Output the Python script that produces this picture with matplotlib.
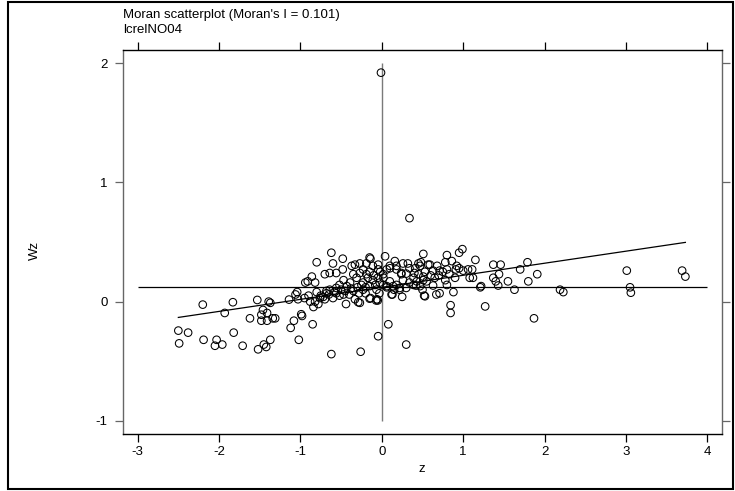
import matplotlib
matplotlib.use('Agg')
import matplotlib.pyplot as plt
from matplotlib.patches import Rectangle

plt.rcParams['font.family'] = ['Liberation Sans', 'DejaVu Sans']

title_line1 = "Moran scatterplot (Moran's I = 0.101)"
title_line2 = "lcrelNO04"
x_label = "z"
y_label = "Wz"
moran_i = 0.101
mean_wz = 0.12
x_ticks = [-3, -2, -1, 0, 1, 2, 3, 4]
y_ticks = [-1, 0, 1, 2]

# left group (z < -1)
z_left = [-2.50, -2.38, -2.49, -2.20, -2.19, -2.03, -2.05, -1.96, -1.93, -1.83,
          -1.82, -1.71, -1.62, -1.53, -1.52, -1.46, -1.48, -1.41, -1.48, -1.41,
          -1.34, -1.31, -1.45, -1.42, -1.37, -1.39, -1.37, -1.14, -1.12, -1.08,
          -1.06, -1.04, -1.02, -1.03]
wz_left = [-0.243, -0.26, -0.35, -0.025, -0.32, -0.32, -0.37, -0.36, -0.095, -0.005,
           -0.26, -0.37, -0.14, 0.014, -0.40, -0.07, -0.11, -0.095, -0.16, -0.16,
           -0.14, -0.14, -0.36, -0.38, -0.32, 0.0, -0.01, 0.017, -0.22, -0.16,
           0.06, 0.08, -0.32, 0.02]

# middle-left group (-1 < z < 0)
z_midl = [-0.99, -0.98, -0.85, -0.62, -0.26, -0.045, -0.62, -0.80, -0.86, -0.94,
          -0.91, -0.82, -0.60, -0.70, -0.48, -0.14, -0.48, -0.56, -0.80, -0.84,
          -0.82, -0.44, -0.29, -0.33, -0.72, -0.65, -0.56, -0.40, -0.20, -0.14,
          -0.06, -0.37, -0.27, -0.23, -0.19, -0.11, -0.045, -0.47, -0.39, -0.31,
          -0.23, -0.15, -0.065, -0.43, -0.35, -0.23, -0.11, -0.025, -0.56, -0.64,
          -0.68, -0.76, -0.52, -0.35, -0.27, -0.15, -0.045, -0.64, -0.33, -0.19,
          -0.15, -0.27, -0.15, -0.07, -0.95, -0.90, -0.88, -0.78, -0.75, -0.70,
          -0.68, -0.60, -0.58, -0.52, -0.50, -0.47, -0.45, -0.38, -0.30, -0.28,
          -0.25, -0.20, -0.17, -0.10, -0.08, -0.05, -0.03, -0.02]
wz_midl = [-0.106, -0.12, -0.19, -0.44, -0.42, -0.29, 0.41, 0.33, 0.21, 0.16,
           0.17, 0.16, 0.32, 0.23, 0.36, 0.36, 0.27, 0.24, 0.08, -0.045,
           0.0, -0.02, -0.005, 0.02, 0.04, 0.06, 0.07, 0.06, 0.07, 0.03,
           0.02, 0.30, 0.32, 0.27, 0.23, 0.30, 0.27, 0.18, 0.16, 0.20,
           0.16, 0.13, 0.10, 0.13, 0.09, 0.10, 0.18, 0.16, 0.115, 0.10,
           0.07, 0.03, 0.14, 0.23, 0.24, 0.25, 0.31, 0.24, 0.31, 0.32,
           0.37, -0.01, 0.025, 0.01, 0.03, 0.05, 0.0, -0.02, 0.05, 0.02,
           0.09, 0.03, 0.08, 0.05, 0.10, 0.06, 0.09, 0.11, 0.12, 0.07,
           0.14, 0.12, 0.20, 0.22, 0.14, 0.20, 0.07, 0.25]

# middle-right group (0 < z < 1.2)
z_midr = [0.08, 0.30, 0.51, 0.04, 0.13, 0.25, 0.52, 0.50, 0.017, 0.098,
          0.18, 0.26, 0.34, 0.40, 0.47, 0.017, 0.098, 0.18, 0.26, 0.34,
          0.43, 0.51, 0.06, 0.14, 0.22, 0.30, 0.39, 0.47, 0.06, 0.16,
          0.24, 0.32, 0.45, 0.53, 0.57, 0.34, 0.80, 0.95, 0.99, 1.15,
          0.53, 0.67, 0.71, 0.845, 0.845, 0.88, 1.08, 1.11, 1.06, 1.00,
          0.91, 0.86, 0.78, 0.80, 0.71, 0.63, 0.78, 0.80, 0.63, 0.59,
          0.48, 0.41, 0.51, 0.55, 0.42, 0.39, 0.30, 0.24, 0.18, 0.10,
          0.22, 0.15, 0.12, 0.06, 1.12, -0.05, 0.45, 0.65, 0.70, 0.75,
          0.90, 0.95, 0.60, 0.68, 0.92, 0.83, 0.02, -0.01]
wz_midr = [-0.19, -0.36, 0.40, 0.38, 0.06, 0.04, 0.05, 0.10, 0.23, 0.30,
           0.27, 0.32, 0.28, 0.24, 0.30, 0.14, 0.17, 0.14, 0.18, 0.16,
           0.17, 0.18, 0.12, 0.13, 0.10, 0.115, 0.14, 0.13, 0.27, 0.34,
           0.24, 0.32, 0.32, 0.25, 0.31, 0.70, 0.39, 0.41, 0.44, 0.35,
           0.045, 0.06, 0.07, -0.03, -0.095, 0.08, 0.20, 0.27, 0.27, 0.26,
           0.27, 0.34, 0.33, 0.27, 0.26, 0.26, 0.18, 0.14, 0.135, 0.31,
           0.33, 0.28, 0.21, 0.17, 0.135, 0.20, 0.235, 0.23, 0.30, 0.28,
           0.115, 0.10, 0.06, 0.13, 0.20, 0.01, 0.23, 0.20, 0.22, 0.25,
           0.20, 0.28, 0.22, 0.30, 0.30, 0.23, 0.20, 1.92]

# right group (z > 1.2)
z_right = [1.37, 1.46, 1.79, 1.70, 1.91, 1.80, 1.55, 1.63, 1.37, 1.44,
           1.40, 1.43, 1.21, 1.27, 1.87, 2.19, 2.23, 3.01, 3.05, 3.06,
           3.69, 3.73, 1.22]
wz_right = [0.31, 0.31, 0.33, 0.27, 0.23, 0.17, 0.17, 0.10, 0.20, 0.23,
            0.17, 0.135, 0.12, -0.04, -0.14, 0.10, 0.08, 0.26, 0.12, 0.075,
            0.26, 0.21, 0.13]

z = z_left + z_midl + z_midr + z_right
wz = wz_left + wz_midl + wz_midr + wz_right

W, H = 735, 491
fig = plt.figure(figsize=(W / 100, H / 100), dpi=100)
fig.patch.set_facecolor('white')
ax = fig.add_axes([123 / W, 1 - 434 / H, (722 - 123) / W, (434 - 50) / H])

ax.scatter(z, wz, s=30, facecolors='none', edgecolors='black', linewidths=0.75, zorder=3)

ax.vlines(0, y_ticks[0], y_ticks[-1], colors='#7a7a7a', linewidth=1.0, zorder=2)
ax.hlines(mean_wz, x_ticks[0], x_ticks[-1], colors='black', linewidth=0.9, zorder=2)
zmin, zmax = min(z), max(z)
ax.plot([zmin, zmax], [mean_wz + moran_i * zmin, mean_wz + moran_i * zmax],
        color='black', linewidth=0.9, zorder=2)

ax.set_xlim(-3.18, 4.18)
ax.set_ylim(-1.11, 2.11)
ax.set_xticks(x_ticks)
ax.set_xticklabels([str(t) for t in x_ticks])
ax.set_yticks(y_ticks)
ax.set_yticklabels([str(t) for t in y_ticks])

ax.tick_params(axis='x', direction='out', length=6, width=0.9, color='black',
               top=True, bottom=True, labelsize=9.5, pad=2.5)
ax.tick_params(axis='y', direction='out', length=6, width=0.9, color='#666666',
               left=True, right=True, labelsize=9.5, pad=5)
for s in ['top', 'bottom']:
    ax.spines[s].set_color('black')
    ax.spines[s].set_linewidth(1.0)
for s in ['left', 'right']:
    ax.spines[s].set_color('#666666')
    ax.spines[s].set_linewidth(1.0)

fig.text(123 / W, 1 - 15 / H, title_line1, ha='left', va='center', fontsize=9.5)
fig.text(123 / W, 1 - 30 / H, title_line2, ha='left', va='center', fontsize=9.5)
fig.text(422 / W, 1 - 469 / H, x_label, ha='center', va='center', fontsize=9.5)
fig.text(35 / W, 1 - 250 / H, y_label, ha='center', va='center', rotation=90, fontsize=9.5)

fig.add_artist(Rectangle((8 / W, 2 / H), (733 - 8) / W, (489 - 2) / H,
                         transform=fig.transFigure, fill=False, edgecolor='black',
                         linewidth=1.5))

fig.savefig('out.png', dpi=100)
